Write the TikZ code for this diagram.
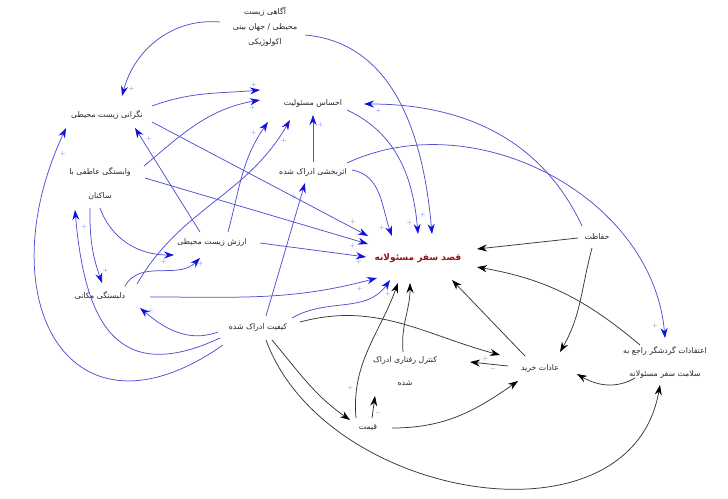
\documentclass[tikz,border=0pt]{standalone}
\usepackage{fontspec}
\newfontfamily\fafont[Script=Arabic]{DejaVu Sans}
\TeXXeTstate=1
\usetikzlibrary{arrows.meta}
\definecolor{linkblue}{RGB}{80,80,210}
\definecolor{tipblue}{RGB}{15,15,230}
\definecolor{linkgray}{RGB}{55,55,55}
\definecolor{goalred}{RGB}{150,20,20}

\begin{document}
\begin{tikzpicture}[x=1pt, y=1pt,
    var/.style={font=\fafont\fontsize{7.8}{12}\selectfont, text=black!85, align=center, inner sep=1pt},
    bl/.style={linkblue, line width=.75pt, -{Stealth[length=10pt, width=7pt, color=tipblue]}},
    bk/.style={linkgray, line width=.75pt, -{Stealth[length=10pt, width=7pt, color=black]}},
    sg/.style={font=\scriptsize, text=tipblue!55, inner sep=1pt},
    sgm/.style={font=\scriptsize, text=black, inner sep=1pt}]
  \fill[white] (0,0) rectangle (728,-498);
  \useasboundingbox (0,0) rectangle (728,-498);

  % variables
  \node[var, font=\fafont\fontsize{7.8}{15}\selectfont] (aware) at (265,-27)
    {\beginR آگاهی زیست\endR\\\beginR محیطی / جهان بینی\endR\\\beginR اکولوژیکی\endR};
  \node[var] (concern) at (107,-115) {\beginR نگرانی زیست محیطی\endR};
  \node[var] (resp) at (313,-103) {\beginR احساس مسئولیت\endR};
  \node[var, font=\fafont\fontsize{7.8}{24}\selectfont] (attach) at (100,-184)
    {\beginR وابستگی عاطفی با\endR\\\beginR ساکنان\endR};
  \node[var] (efficacy) at (313,-172) {\beginR اثربخشی ادراک شده\endR};
  \node[var] (value) at (212,-242) {\beginR ارزش زیست محیطی\endR};
  \node[var, font=\fafont\bfseries\fontsize{9}{12}\selectfont, text=goalred] (intent) at (418,-258)
    {\beginR قصد سفر مسئولانه\endR};
  \node[var] (protect) at (597,-237) {\beginR حفاظت\endR};
  \node[var] (place) at (100,-296) {\beginR دلبستگی مکانی\endR};
  \node[var] (quality) at (258,-327) {\beginR کیفیت ادراک شده\endR};
  \node[var, font=\fafont\fontsize{7.8}{23}\selectfont] (pbc) at (405,-371)
    {\beginR کنترل رفتاری ادراک\endR\\\beginR شده\endR};
  \node[var] (habits) at (540,-368) {\beginR عادات خرید\endR};
  \node[var, font=\fafont\fontsize{7.8}{23}\selectfont] (beliefs) at (665,-362)
    {\beginR اعتقادات گردشگر راجع به\endR\\\beginR سلامت سفر مسئولانه\endR};
  \node[var] (price) at (368,-428) {\beginR قیمت\endR};

  % positive links
  \draw[bl] ([shift={(40,-8)}]aware.center) to[out=-5,in=95]
    node[sg, pos=.93, left=3pt] {+} ([shift={(14,24)}]intent.center);
  \draw[bl] ([shift={(-45,5)}]aware.center) to[out=175,in=75]
    node[sg, pos=.95, right=3pt] {+} ([shift={(15,19)}]concern.center);
  \draw[bl] ([shift={(45,9)}]concern.center) to[out=20,in=185]
    node[sg, pos=.95, above=2pt] {+} ([shift={(-53,13)}]resp.center);
  \draw[bl] ([shift={(44,18)}]attach.center) to[out=40,in=190]
    node[sg, pos=.95, below=2pt] {+} ([shift={(-53,3)}]resp.center);
  \draw[bl] ([shift={(45,-7)}]concern.center) --
    node[sg, pos=.93, above=2pt] {+} ([shift={(-50,22)}]intent.center);
  \draw[bl] ([shift={(45,6)}]attach.center) --
    node[sg, pos=.93, below=2pt] {+} ([shift={(-50,14)}]intent.center);
  \draw[bl] ([shift={(-12,10)}]value.center) --
    node[sg, pos=.9, right=3pt] {+} ([shift={(28,-13)}]concern.center);
  \draw[bl] ([shift={(16,10)}]value.center) to[out=75,in=235]
    node[sg, pos=.9, left=3pt] {+} ([shift={(-45,-19)}]resp.center);
  \draw[bl] ([shift={(37,12)}]place.center) to[out=60,in=240]
    node[sg, pos=.9, right=3pt] {+} ([shift={(-23,-17)}]resp.center);
  \draw[bl] ([shift={(48,-1)}]value.center) --
    node[sg, pos=.93, below=2pt] {+} ([shift={(-52,1)}]intent.center);
  \draw[bl] ([shift={(0,10)}]efficacy.center) --
    node[sg, pos=.8, right=3pt] {+} ([shift={(0,-12)}]resp.center);
  \draw[bl] ([shift={(39,2)}]efficacy.center) to[out=-10,in=110]
    node[sg, pos=.9, left=3pt] {+} ([shift={(-26,22)}]intent.center);
  \draw[bl] ([shift={(34,-7)}]resp.center) to[out=-25,in=95]
    node[sg, pos=.93, left=3pt] {+} ([shift={(0,24)}]intent.center);
  \draw[bl] ([shift={(-15,11)}]protect.center) to[out=115,in=0]
    node[sg, pos=.95, below=3pt] {+} ([shift={(51,-1)}]resp.center);
  \draw[bl] ([shift={(34,9)}]efficacy.center) to[out=25,in=95]
    node[sg, pos=.97, left=4pt] {+} ([shift={(0,24)}]beliefs.center);
  \draw[bl] ([shift={(8,11)}]quality.center) --
    node[sg, pos=.9, left=3pt] {+} ([shift={(-8,-11)}]efficacy.center);
  \draw[bl] ([shift={(-40,-5)}]quality.center) to[out=200,in=-40]
    node[sg, pos=.85, above=2pt] {+} ([shift={(40,-12)}]place.center);
  \draw[bl] ([shift={(-38,-11)}]quality.center) to[out=205,in=-85, looseness=1.5]
    node[sg, pos=.95, right=3pt] {+} ([shift={(-25,-26)}]attach.center);
  \draw[bl] ([shift={(-35,-18)}]quality.center) to[out=215,in=245, looseness=1.8]
    node[sg, pos=.95, right=3pt] {+} ([shift={(-41,-13)}]concern.center);
  \draw[bl] ([shift={(-10,-24)}]attach.center) to[bend right=10]
    node[sg, pos=.85, right=3pt] {+} ([shift={(2,13)}]place.center);
  \draw[bl] ([shift={(0,-24)}]attach.center) to[out=-70,in=180]
    node[sg, pos=.9, below=3pt] {+} ([shift={(-38,-13)}]value.center);
  \draw[bl] ([shift={(25,10)}]place.center) to[out=60,in=225]
    node[sg, pos=.9, right=3pt] {+} ([shift={(-12,-16)}]value.center);
  \draw[bl] ([shift={(50,-1)}]place.center) to[out=0,in=195]
    node[sg, pos=.93, below=2pt] {+} ([shift={(-41,-20)}]intent.center);
  \draw[bl] ([shift={(34,9)}]quality.center) to[out=30,in=235]
    node[sg, pos=.9, below right=1pt] {+} ([shift={(-28,-22)}]intent.center);

  % other links
  \draw[bk] ([shift={(-19,-1)}]protect.center) -- ([shift={(59,9)}]intent.center);
  \draw[bk] ([shift={(-5,-11)}]protect.center) to[out=-105,in=60] ([shift={(20,16)}]habits.center);
  \draw[bk] ([shift={(-15,12)}]habits.center) -- ([shift={(34,-22)}]intent.center);
  \draw[bk] ([shift={(-32,2)}]habits.center) --
    node[sg, pos=.6, above=1pt] {+} node[sgm, pos=.4, below=3pt] {--} ([shift={(65,9)}]pbc.center);
  \draw[bk] ([shift={(-2,19)}]pbc.center) to[out=95,in=-90] ([shift={(-8,-25)}]intent.center);
  \draw[bk] ([shift={(-12,10)}]price.center) to[out=95,in=250]
    node[sg, pos=.2, left=2pt] {+} ([shift={(-20,-25)}]intent.center);
  \draw[bk] ([shift={(42,5)}]quality.center) to[out=15,in=165] ([shift={(-40,13)}]habits.center);
  \draw[bk] ([shift={(14,-13)}]quality.center) to[out=-50,in=145] ([shift={(-18,8)}]price.center);
  \draw[bk] ([shift={(8,-13)}]quality.center) to[out=-70,in=-100, looseness=1.1] ([shift={(-5,-23)}]beliefs.center);
  \draw[bk] ([shift={(4,10)}]price.center) --
    node[sgm, pos=.2, right=2pt] {--} ([shift={(-30,-25)}]pbc.center);
  \draw[bk] ([shift={(24,0)}]price.center) to[out=0,in=215] ([shift={(-22,-13)}]habits.center);
  \draw[bk] ([shift={(-30,-16)}]beliefs.center) to[out=210,in=-30] ([shift={(37,-6)}]habits.center);
  \draw[bk] ([shift={(-25,17)}]beliefs.center) to[out=140,in=-10] ([shift={(59,-9)}]intent.center);
\end{tikzpicture}
\end{document}
